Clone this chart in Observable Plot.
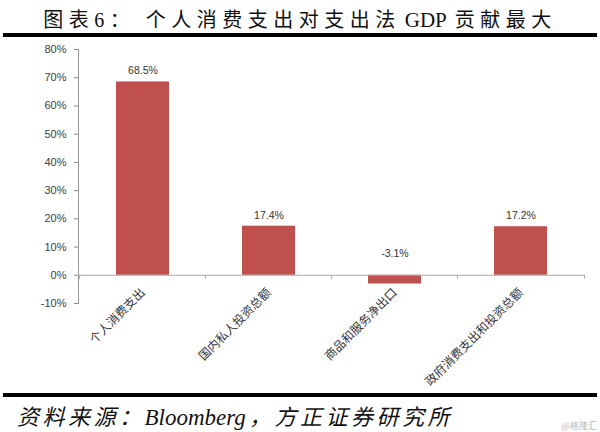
<!DOCTYPE html>
<html><head><meta charset="utf-8">
<script src="https://cdn.jsdelivr.net/npm/d3@7"></script>
<script src="https://cdn.jsdelivr.net/npm/@observablehq/plot@0.6"></script>
<style>
body{margin:0;background:#fff;width:600px;height:432px;overflow:hidden;}
#title{height:33px;line-height:40px;font-family:"Liberation Serif","Noto Sans CJK SC",serif;font-size:20px;letter-spacing:5.5px;color:#111;text-align:center;white-space:pre;border-bottom:4px solid #000;margin:0 3px;}
#title .lat{letter-spacing:0;font-size:21px;margin:0 8px 0 4px;}
#chart{height:356px;}
#foot{border-top:4px solid #000;height:35px;position:relative;margin:0 3px;}
#cap{position:absolute;left:14px;top:2px;font-family:"Liberation Serif","Noto Sans CJK SC",serif;font-style:italic;font-size:22px;letter-spacing:3.5px;color:#111;white-space:pre;}
#cap .lat{letter-spacing:0;font-size:23px;margin-right:3px;}
#wm{position:absolute;right:0px;top:22px;font-family:"Noto Sans CJK SC",sans-serif;font-size:9px;color:#bbb;}
</style></head>
<body>
<div id="title">图表6： 个人消费支出对支出法<span class="lat">GDP</span>贡献最大</div>
<div id="chart"></div>
<div id="foot"><div id="cap">资料来源：<span class="lat">Bloomberg</span>，方正证券研究所</div><div id="wm">@格隆汇</div></div>
<script>
const categories = ["个人消费支出","国内私人投资总额","商品和服务净出口","政府消费支出和投资总额"];
const values = [0.685, 0.174, -0.031, 0.172];
const labels = ["68.5%","17.4%","-3.1%","17.2%"];
const yTicks = [-0.1,0,0.1,0.2,0.3,0.4,0.5,0.6,0.7,0.8];

const data = categories.map((c,i)=>({cat:c, value:values[i], label:labels[i]}));
const W = 600, ML = 78, MR = 15;
const step = (W - ML - MR) / categories.length;
const pct = d => Math.round(d*100) + "%";

const chart = Plot.plot({
  width: W, height: 356,
  marginTop: 12, marginBottom: 90, marginLeft: ML, marginRight: MR,
  style: {fontFamily: "Liberation Sans, Arial, sans-serif", fontSize: "11px", color: "#404040", background: "#fff"},
  x: {domain: categories, paddingInner: 0.583, paddingOuter: 0.29, axis: null},
  y: {domain: [-0.1, 0.8], ticks: yTicks, tickFormat: pct, label: null},
  marks: [
    Plot.axisY({ticks: yTicks, tickFormat: pct, tickSize: 4, tickPadding: 8, stroke: "#888", fill: "#404040", fontSize: 11, label: null}),
    Plot.frame({anchor: "left", stroke: "#999"}),
    Plot.barY(data, {x: "cat", y: "value", fill: "#C0504D"}),
    Plot.ruleY([0], {stroke: "#aaa"}),
    Plot.ruleX(categories, {x: d => d, y1: 0, y2: -0.015, dx: -step/2, stroke: "#aaa"}),
    Plot.ruleX(categories.slice(-1), {x: d => d, y1: 0, y2: -0.015, dx: step/2, stroke: "#aaa"}),
    Plot.text(data.filter(d=>d.value>=0), {x: "cat", y: "value", text: "label", dy: -11, fill: "#333", fontSize: 10.5}),
    Plot.text(data.filter(d=>d.value<0), {x: "cat", y: 0, text: "label", dy: -22, fill: "#333", fontSize: 10.5}),
    Plot.text(data, {x: "cat", y: -0.1, text: "cat", rotate: -45, textAnchor: "end", dy: -13, dx: 0, fill: "#333", fontSize: 12, fontFamily: "Noto Sans CJK SC, sans-serif"})
  ]
});
document.getElementById("chart").appendChild(chart);
</script>
</body></html>
